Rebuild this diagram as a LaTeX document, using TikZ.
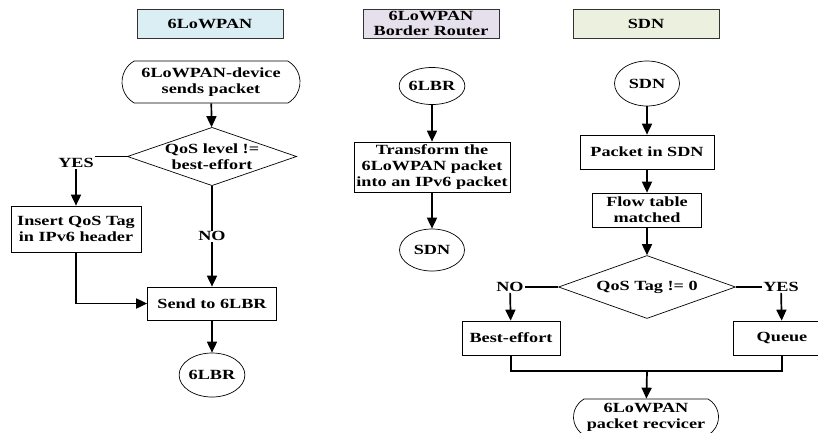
\documentclass[tikz,border=0pt]{standalone}
\usepackage{fontspec}
\setmainfont{Liberation Serif}[FakeStretch=1.3]
\usepackage{tikz}
\usetikzlibrary{arrows.meta,shapes,calc}
\definecolor{lowpanblue}{HTML}{DAEEF3}
\definecolor{routerpurple}{HTML}{E5E0EC}
\definecolor{sdngreen}{HTML}{EBF1DE}
\tikzstyle{header}=[draw=black!80, line width=0.8pt, minimum width=146pt, minimum height=29pt, inner sep=1pt, align=center]
\tikzstyle{stepbox}=[draw, line width=0.7pt, inner sep=2pt, align=center]
\tikzstyle{terminal}=[rounded rectangle, rounded rectangle arc length=120, draw, line width=0.7pt, inner xsep=0pt, inner ysep=1pt, align=center]
\tikzstyle{decision}=[diamond, draw, line width=0.7pt, inner sep=0pt, aspect=2.9, align=center]
\tikzstyle{endpoint}=[ellipse, draw, line width=0.7pt, inner sep=0pt]
\tikzstyle{lbl}=[inner sep=1pt]
\tikzstyle{edge}=[draw, line width=1.7pt, -{Triangle[length=11pt,width=10pt]}]
\tikzstyle{link}=[draw, line width=1.7pt]

\begin{document}
\begin{tikzpicture}[x=1pt, y=-1pt, every node/.style={font=\fontsize{14}{16}\selectfont\bfseries}]
    \useasboundingbox (0,0) rectangle (818,432);

    % column headers
    \node[header, fill=lowpanblue] (hlowpan) at (210,23.5) {6LoWPAN};
    \node[header, fill=routerpurple, minimum width=136pt, font=\fontsize{14}{14.5}\selectfont\bfseries] (hrouter) at (431,23.5) {6LoWPAN\\Border Router};
    \node[header, fill=sdngreen] (hsdn) at (646,23.5) {SDN};

%left column
    \node[terminal, minimum width=178pt, minimum height=42pt] (dev) at (211,82) {6LoWPAN-device\\sends packet};
    \node[decision, minimum width=166pt, minimum height=57pt] (qos) at (212,156.5) {QoS level !=\\best-effort};
    \node[lbl] (yesA) at (76,163) {YES};
    \node[stepbox, minimum width=130pt, minimum height=46pt] (tag) at (76,229) {Insert QoS Tag\\in IPv6 header};
    \node[stepbox, minimum width=129pt, minimum height=33pt] (send) at (212,303.5) {Send to 6LBR};
    \node[endpoint, minimum width=65pt, minimum height=44pt] (lbrA) at (212,375) {6LBR};

    \draw[edge] (dev) -- (qos);
    \draw[link] (qos.west) -- (yesA.east |- qos.west);
    \draw[edge] (yesA) -- (tag);
    \draw[edge] (tag.south) |- (send.west);
    \draw[edge] (qos.south) -- node[lbl, fill=white] {NO} (send.north);
    \draw[edge] (send) -- (lbrA);

%middle column
    \node[endpoint, minimum width=65pt, minimum height=37pt] (lbrB) at (432,86) {6LBR};
    \node[stepbox, minimum width=156pt, minimum height=50pt] (trans) at (432,167) {Transform the\\6LoWPAN packet\\into an IPv6 packet};
    \node[endpoint, minimum width=65pt, minimum height=42pt] (sdnB) at (432,250) {SDN};

    \draw[edge] (lbrB) -- (trans);
    \draw[edge] (trans) -- (sdnB);

%right column
    \node[endpoint, minimum width=65pt, minimum height=45pt] (sdnC) at (647,83.5) {SDN};
    \node[stepbox, minimum width=134pt, minimum height=34pt] (pin) at (647,152) {Packet in SDN};
    \node[stepbox, minimum width=109pt, minimum height=34pt] (flow) at (647,210) {Flow table\\matched};
    \node[decision, minimum width=177pt, minimum height=63pt] (tagchk) at (647,287) {QoS Tag != 0};
    \node[lbl] (noB) at (510,287) {NO};
    \node[lbl] (yesB) at (781,287) {YES};
    \node[stepbox, minimum width=98pt, minimum height=34pt] (best) at (511,338) {Best-effort};
    \node[stepbox, minimum width=98pt, minimum height=34pt] (queue) at (782,338) {Queue};
    \node[terminal, minimum width=145pt, minimum height=36pt] (recv) at (646,417) {6LoWPAN\\packet recvicer};
    \coordinate (merge) at (647,371);

    \draw[edge] (sdnC) -- (pin);
    \draw[edge] (pin) -- (flow);
    \draw[edge] (flow) -- (tagchk);
    \draw[link] (tagchk.west) -- (noB.east);
    \draw[edge] (noB) -- (best);
    \draw[link] (tagchk.east) -- (yesB.west);
    \draw[edge] (yesB) -- (queue);
    \draw[link] (best.south) |- (merge) -| (queue.south);
    \draw[edge] (merge) -- (recv);

\end{tikzpicture}
\end{document}
